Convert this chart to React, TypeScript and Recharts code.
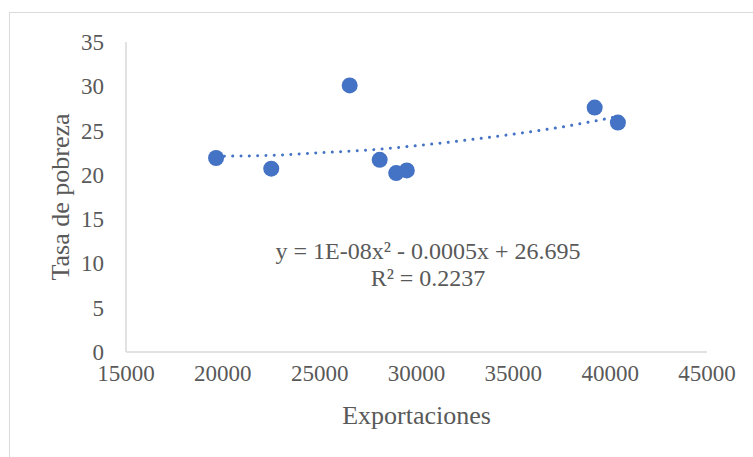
import {
  ComposedChart,
  Scatter,
  Line,
  XAxis,
  YAxis,
} from 'recharts';

// observed points (exportaciones, tasa de pobreza)
const exportaciones = [19650, 22500, 26550, 28100, 28950, 29500, 39200, 40400];
const pobreza = [21.9, 20.7, 30.1, 21.7, 20.2, 20.5, 27.6, 25.9];

// polynomial trendline, values
const trendX = [19650, 22500, 25000, 27500, 30000, 32500, 35000, 37500, 40400];
const trendY = [22.1, 22.2, 22.5, 22.8, 23.3, 23.9, 24.6, 25.4, 26.6];

const xTicks = [15000, 20000, 25000, 30000, 35000, 40000, 45000];
const yTicks = [0, 5, 10, 15, 20, 25, 30, 35];

const equation = 'y = 1E-08x² - 0.0005x + 26.695';
const rSquared = 'R² = 0.2237';

const font = '"Liberation Serif", "Times New Roman", serif';
const textColor = '#595959';
const tickStyle = { fontFamily: font, fontSize: 23, fill: textColor };

const XTick = (p: any) => (
  <text x={p.x} y={p.y + 29} textAnchor="middle" style={tickStyle}>
    {p.payload.value}
  </text>
);

const YTick = (p: any) => (
  <text x={p.x} y={p.y + 8} textAnchor="end" style={tickStyle}>
    {p.payload.value}
  </text>
);

export default function App() {
  const points = exportaciones.map((x, i) => ({ x, y: pobreza[i] }));
  const trend = trendX.map((x, i) => ({ x, y: trendY[i] }));

  return (
    <div style={{ position: 'absolute', left: 0, top: 0, width: 753, height: 457, background: '#fff', overflow: 'hidden', fontFamily: font }}>
      <div
        style={{
          position: 'absolute',
          left: 9,
          top: 12,
          width: 760,
          height: 460,
          border: '1px solid #d9d9d9',
        }}
      />
      <ComposedChart
        width={753}
        height={457}
        margin={{ top: 42, right: 46, bottom: 45, left: 66 }}
        style={{ position: 'absolute', left: 0, top: 0 }}
      >
        <XAxis
          type="number"
          dataKey="x"
          domain={[15000, 45000]}
          ticks={xTicks}
          height={60}
          tickSize={0}
          tickMargin={0}
          tick={<XTick />}
          axisLine={{ stroke: '#d9d9d9', strokeWidth: 1.5 }}
          tickLine={false}
          allowDataOverflow
          label={{
            value: 'Exportaciones',
            position: 'insideBottom',
            offset: -12,
            style: { fontFamily: font, fontSize: 26, fill: textColor },
          }}
        />
        <YAxis
          type="number"
          dataKey="y"
          domain={[0, 35]}
          ticks={yTicks}
          width={60}
          tickSize={0}
          tickMargin={22}
          tick={<YTick />}
          axisLine={{ stroke: '#d9d9d9', strokeWidth: 1.5 }}
          tickLine={false}
          label={{
            value: 'Tasa de pobreza',
            angle: -90,
            position: 'insideLeft',
            offset: -6,
            style: { textAnchor: 'middle', fontFamily: font, fontSize: 26, fill: textColor },
          }}
        />
        <Line
          data={trend}
          dataKey="y"
          type="monotone"
          stroke="#4472C4"
          strokeWidth={3}
          strokeDasharray="0.01 8.3"
          strokeLinecap="round"
          dot={false}
          activeDot={false}
          isAnimationActive={false}
        />
        <Scatter
          data={points}
          dataKey="y"
          fill="#4472C4"
          shape={(p: any) => <circle cx={p.cx} cy={p.cy} r={8} fill="#4472C4" />}
          isAnimationActive={false}
        />
      </ComposedChart>
      <div
        style={{
          position: 'absolute',
          left: 228,
          width: 400,
          top: 238,
          textAlign: 'center',
          fontSize: 24,
          lineHeight: '27px',
          color: textColor,
        }}
      >
        <div>{equation}</div>
        <div>{rSquared}</div>
      </div>
    </div>
  );
}
